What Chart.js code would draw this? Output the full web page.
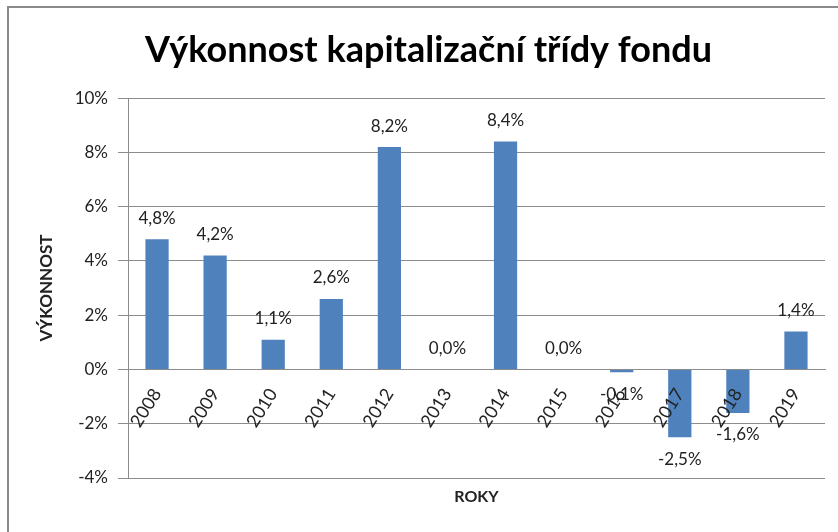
<!DOCTYPE html>
<html>
<head>
<meta charset="utf-8">
<script src="https://cdn.jsdelivr.net/npm/chart.js@4"></script>
<style>
  html, body { margin: 0; padding: 0; background: #fff; overflow: hidden; }
  #frame {
    position: absolute; left: 7px; top: 6px; width: 900px; height: 600px;
    border-left: 2px solid #8a8a8a; border-top: 2px solid #8a8a8a;
  }
  #myChart { position: absolute; left: 0; top: 0; }
</style>
</head>
<body>
<div id="frame"></div>
<canvas id="myChart" width="838" height="532"></canvas>
<script>
const years = ["2008", "2009", "2010", "2011", "2012", "2013", "2014", "2015", "2016", "2017", "2018", "2019"];
const performance = [4.8, 4.2, 1.1, 2.6, 8.2, 0.0, 8.4, 0.0, -0.1, -2.5, -1.6, 1.4];
const yTicks = [-4, -2, 0, 2, 4, 6, 8, 10];

const gridGray = '#8c8c8c';
const textColor = '#222';
const fontFamily = 'Lato, "Open Sans", sans-serif';

// value labels above positive bars, below negative ones
const barLabels = {
    id: 'barLabels',
    afterDatasetsDraw(chart) {
        const ctx = chart.ctx;
        const meta = chart.getDatasetMeta(0);
        ctx.save();
        ctx.font = '17px ' + fontFamily;
        ctx.fillStyle = textColor;
        ctx.textAlign = 'center';
        ctx.textBaseline = 'middle';
        meta.data.forEach((bar, i) => {
            const v = performance[i];
            const text = v.toFixed(1).replace('.', ',') + '%';
            const y = v >= 0 ? bar.y - 21 : bar.y + 22;
            ctx.fillText(text, bar.x, y);
        });
        ctx.restore();
    }
};

const ctx = document.getElementById("myChart").getContext("2d");

new Chart(ctx, {
    type: 'bar',
    data: {
        labels: years,
        datasets: [{
            label: 'Výkonnost',
            data: performance,
            backgroundColor: '#4f81bd',
            barPercentage: 0.4,
            categoryPercentage: 1.0
        }]
    },
    options: {
        responsive: false,
        animation: false,
        layout: { padding: { left: 32, right: 13, top: 0, bottom: 0 } },
        plugins: {
            legend: { display: false },
            tooltip: { enabled: false },
            title: {
                display: true,
                text: 'Výkonnost kapitalizační třídy fondu',
                color: '#000',
                font: { family: fontFamily, size: 36, weight: 'bold' },
                padding: { top: 29, bottom: 26 }
            }
        },
        scales: {
            x: {
                position: { y: 0 },
                grid: { display: false, drawTicks: false },
                border: { display: true, color: gridGray, width: 1 },
                ticks: {
                    z: 1,
                    color: textColor,
                    font: { family: fontFamily, size: 18 },
                    minRotation: 58,
                    maxRotation: 58,
                    autoSkip: false,
                    padding: 15
                }
            },
            x2: {
                position: 'bottom',
                grid: { display: false, drawTicks: false },
                border: { display: false },
                ticks: { display: false },
                title: {
                    display: true,
                    text: 'ROKY',
                    color: textColor,
                    font: { family: fontFamily, size: 16, weight: 'bold' },
                    padding: { top: 0, bottom: 26 }
                },
                afterFit(scale) { scale.height = 54; }
            },
            y: {
                min: -4,
                max: 10,
                afterBuildTicks(scale) {
                    scale.ticks = yTicks.map(v => ({ value: v }));
                },
                grid: { color: gridGray, tickLength: 10, drawTicks: true },
                border: { display: true, color: gridGray },
                ticks: {
                    color: textColor,
                    font: { family: fontFamily, size: 17 },
                    padding: 10,
                    callback: v => v + '%'
                },
                title: {
                    display: true,
                    text: 'VÝKONNOST',
                    color: textColor,
                    font: { family: fontFamily, size: 17, weight: 'bold' },
                    padding: { top: 4, bottom: 0 }
                },
                afterFit(scale) { scale.width = 96; }
            }
        }
    },
    plugins: [barLabels]
});
</script>
</body>
</html>
